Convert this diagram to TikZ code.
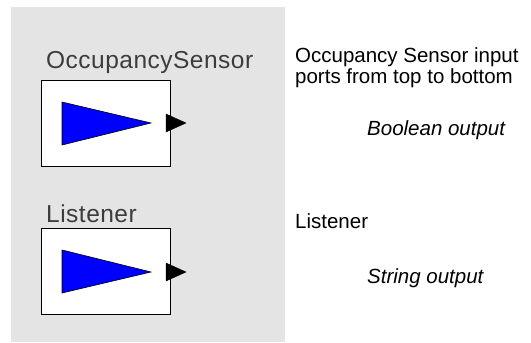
\documentclass[tikz,border=0pt]{standalone}
\usepackage{fontspec}
\setmainfont{Liberation Sans}
\newfontfamily\vfont[LetterSpace=2]{Liberation Sans}
\definecolor{panelgray}{RGB}{228,228,228}
\definecolor{labelgray}{RGB}{60,60,60}
\tikzset{
  actorbox/.style={draw=black, line width=1.3pt, fill=white, minimum width=129pt, minimum height=86pt, inner sep=0pt, anchor=north west},
  actorlabel/.style={anchor=base west, inner sep=0pt, text=labelgray, font=\vfont\fontsize{24.5}{26}\selectfont},
  notetext/.style={anchor=base west, inner sep=0pt, text=black, font=\fontsize{20.5}{21}\selectfont},
  noteital/.style={anchor=base west, inner sep=0pt, text=black, font=\itshape\fontsize{20.5}{21}\selectfont},
  bluetri/.style={draw=black, line width=0.6pt, fill=blue},
  porttri/.style={draw=black, line width=0.4pt, fill=black}
}
\begin{document}
\begin{tikzpicture}[x=1pt,y=-1pt]
\useasboundingbox (0,0) rectangle (531,343);
\fill[panelgray] (11,7) rectangle (285,342);
% actor 1
\node[actorlabel] (l1) at (46,68) {OccupancySensor};
\node[actorbox] (b1) at (41,80) {};
\draw[bluetri] (62,102) -- (151,123) -- (62,145) -- cycle;
\draw[porttri] (166,114) -- (186,123) -- (166,132) -- cycle;
% actor 2
\node[actorlabel] (l2) at (46,222) {Listener};
\node[actorbox] (b2) at (41,228) {};
\draw[bluetri] (62,250) -- (151,272) -- (62,293) -- cycle;
\draw[porttri] (166,263) -- (186,272) -- (166,281) -- cycle;
% notes
\node[notetext] (n1) at (295,62) {Occupancy Sensor input};
\node[notetext] (n2) at (295,83) {ports from top to bottom};
\node[noteital] (n3) at (367,135) {Boolean output};
\node[notetext] (n4) at (295,228) {Listener};
\node[noteital] (n5) at (367,283) {String output};
\end{tikzpicture}
\end{document}
